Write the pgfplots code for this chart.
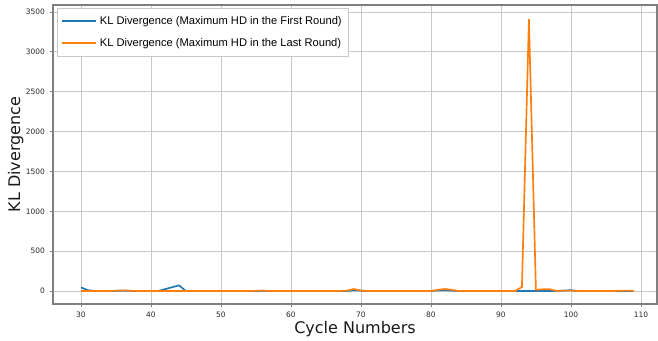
\documentclass[border=0pt]{standalone}
\usepackage{pgfplots}
\pgfplotsset{compat=1.18}
\usepackage{fontspec}
\setmainfont{DejaVu Sans}
\newfontfamily\legfont{Liberation Sans}
\definecolor{mplblue}{HTML}{1F77B4}
\definecolor{mplorange}{HTML}{FF7F0E}
\definecolor{gridgray}{HTML}{C8C8C8}
\definecolor{spinegray}{HTML}{808080}
\begin{document}
\begin{tikzpicture}
\begin{axis}[
  name=ax,
  scale only axis,
  width=453pt, height=224.25pt,
  xmin=26, xmax=112.3,
  ymin=-163, ymax=3588,
  xtick={30,40,...,110},
  ytick={0,500,...,3500},
  grid=major,
  major grid style={gridgray, line width=0.6pt},
  axis line style={spinegray, line width=0.8pt},
  tick style={spinegray, line width=0.6pt},
  tick align=outside,
  major tick length=2.5pt,
  xtick pos=bottom, ytick pos=left,
  ticklabel style={font=\fontsize{5.6}{6}\selectfont, text=black!85},
  /pgf/number format/assume math mode=true,
  /pgf/number format/1000 sep={},
  xlabel={Cycle Numbers},
  ylabel={KL Divergence},
  label style={font=\fontsize{12}{14}\selectfont, text=black!90},
  xlabel style={yshift=4pt},
  ylabel style={yshift=-5pt},
  legend style={at={(0.006,0.99)}, anchor=north west, font=\legfont\fontsize{8.35}{10}\selectfont,
    draw=gridgray, line width=0.6pt, fill=white, inner xsep=3pt, inner ysep=4pt, row sep=5pt, cells={anchor=west}},
  legend image post style={line width=1.5pt},
  legend image code/.code={\draw[#1] (0cm,0cm) -- (0.9cm,0cm);},
  legend cell align=left,
]
\addplot[mplblue, line width=1.25pt] coordinates {
(30,45)(31,10)(32,0)(33,0)(34,0)(35,2)(36,5)(37,2)(38,0)(39,0)(40,0)
(41,0)(42,23)(43,47)(44,70)(45,0)(46,0)(47,0)(48,0)(49,0)(50,0)
(51,0)(52,0)(53,0)(54,0)(55,0)(56,3)(57,0)(58,0)(59,0)(60,0)
(61,0)(62,0)(63,0)(64,0)(65,0)(66,0)(67,0)(68,0)(69,10)(70,5)
(71,0)(72,0)(73,0)(74,0)(75,0)(76,0)(77,0)(78,0)(79,0)(80,0)
(81,8)(82,10)(83,5)(84,0)(85,0)(86,0)(87,0)(88,0)(89,0)(90,0)
(91,0)(92,0)(93,0)(94,0)(95,0)(96,0)(97,0)(98,0)(99,5)(100,10)
(101,0)(102,0)(103,0)(104,0)(105,0)(106,0)(107,0)(108,0)(109,0)
};
\addlegendentry{KL Divergence (Maximum HD in the First Round)}
\addplot[mplorange, line width=1.25pt] coordinates {
(30,0)(31,0)(32,0)(33,0)(34,0)(35,3)(36,8)(37,3)(38,0)(39,0)(40,0)
(41,0)(42,0)(43,0)(44,0)(45,0)(46,0)(47,0)(48,0)(49,0)(50,0)
(51,0)(52,0)(53,0)(54,0)(55,2)(56,5)(57,0)(58,0)(59,0)(60,0)
(61,0)(62,0)(63,0)(64,0)(65,0)(66,0)(67,0)(68,5)(69,25)(70,5)
(71,0)(72,0)(73,0)(74,0)(75,0)(76,0)(77,0)(78,0)(79,0)(80,0)
(81,15)(82,25)(83,15)(84,0)(85,0)(86,0)(87,0)(88,0)(89,0)(90,0)
(91,0)(92,0)(93,50)(94,3410)(95,15)(96,22)(97,22)(98,0)(99,5)(100,5)
(101,0)(102,0)(103,0)(104,0)(105,0)(106,0)(107,3)(108,5)(109,0)
};
\addlegendentry{KL Divergence (Maximum HD in the Last Round)}
\end{axis}
\pgfresetboundingbox
\useasboundingbox ([xshift=-39.75pt,yshift=-27.75pt]ax.south west) rectangle ([xshift=0.75pt,yshift=3.75pt]ax.north east);
\end{tikzpicture}
\end{document}
